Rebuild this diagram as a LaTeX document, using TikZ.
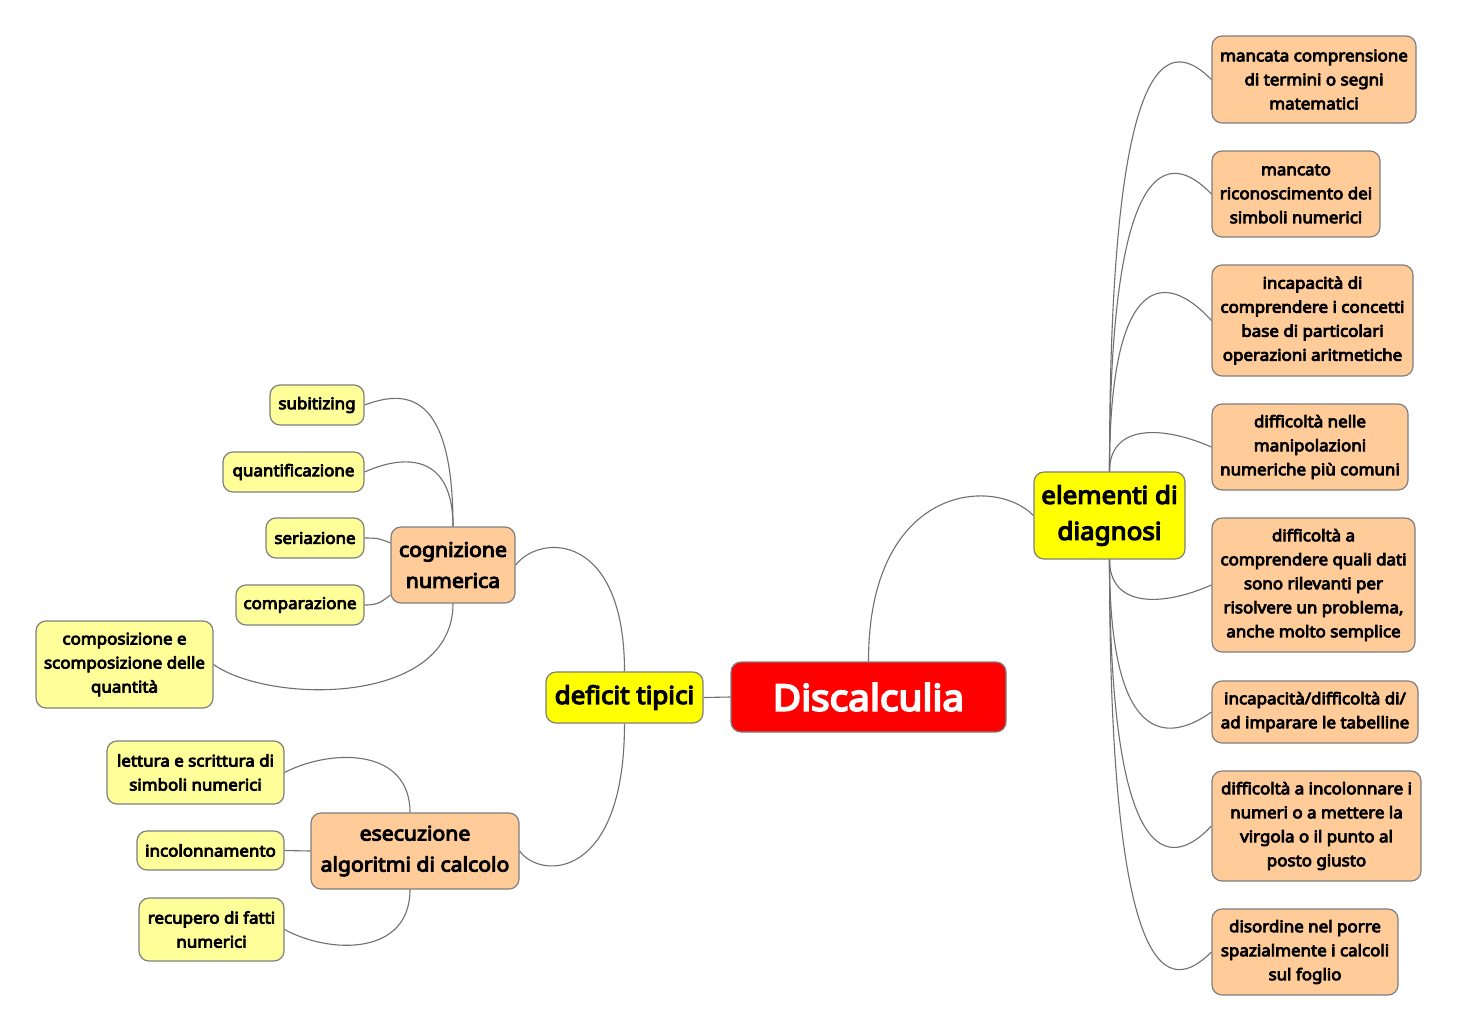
\documentclass[tikz,border=0pt]{standalone}
\usepackage{fontspec}
\setmainfont{Noto Sans}[BoldFont={Noto Sans},BoldFeatures={FakeBold=5,FakeStretch=1.06}]
\usetikzlibrary{positioning}

\definecolor{rootred}{HTML}{FF0000}
\definecolor{mainyellow}{HTML}{FFFF00}
\definecolor{subpeach}{HTML}{FFCC99}
\definecolor{leafyellow}{HTML}{FFFF99}
\definecolor{boxline}{HTML}{7F7F7F}
\definecolor{linkgray}{HTML}{707070}

\begin{document}
\begin{tikzpicture}[x=1pt,y=-1pt,
	box/.style={draw=boxline, line width=1.2pt, rounded corners=10pt, align=center, inner sep=0pt},
	root/.style={box, fill=rootred, text=white, font=\fontsize{36.5}{40}\selectfont\bfseries},
	main/.style={box, fill=mainyellow, font=\fontsize{24.5}{36}\selectfont\bfseries},
	sub/.style={box, fill=subpeach, font=\fontsize{20}{31}\selectfont\bfseries},
	leafy/.style={box, fill=leafyellow, font=\fontsize{16}{24}\selectfont\bfseries},
	leafp/.style={box, fill=subpeach, font=\fontsize{16}{24}\selectfont\bfseries},
	link/.style={draw=linkgray, line width=1.1pt}]
	\fill[white] (0,0) rectangle (1459,1034);
	\useasboundingbox (0,0) rectangle (1459,1034);

	% centre and branches
	\node[root, minimum width=275pt, minimum height=70pt] (rt) at (868.5,697) {Discalculia};
	\node[main, minimum width=157pt, minimum height=51pt] (df) at (624.5,697.5) {deficit tipici};
	\node[main, minimum width=151pt, minimum height=87pt] (el) at (1109.5,515.5) {elementi di\\diagnosi};

	% deficit tipici
	\node[sub, minimum width=124pt, minimum height=76pt] (cn) at (453,565) {cognizione\\numerica};
	\node[sub, minimum width=208pt, minimum height=76pt] (ex) at (415,851) {esecuzione\\algoritmi di calcolo};

	\node[leafy, minimum width=94pt, minimum height=40pt] (sb) at (317,405) {subitizing};
	\node[leafy, minimum width=141pt, minimum height=40pt] (qt) at (293.5,472) {quantificazione};
	\node[leafy, minimum width=98pt, minimum height=40pt] (sr) at (315,538) {seriazione};
	\node[leafy, minimum width=128pt, minimum height=40pt] (cp) at (300,605) {comparazione};
	\node[leafy, minimum width=177pt, minimum height=87pt] (cs) at (124.5,664.5) {composizione e\\scomposizione delle\\quantità};

	\node[leafy, minimum width=177pt, minimum height=63pt] (ls) at (195.5,772.5) {lettura e scrittura di\\simboli numerici};
	\node[leafy, minimum width=147pt, minimum height=39pt] (ic) at (210.5,850.5) {incolonnamento};
	\node[leafy, minimum width=145pt, minimum height=63pt] (rf) at (211.5,929.5) {recupero di fatti\\numerici};

	% elementi di diagnosi
	\node[leafp, minimum width=204pt, minimum height=87pt] (r1) at (1314,79.5) {mancata comprensione\\di termini o segni\\matematici};
	\node[leafp, minimum width=168pt, minimum height=86pt] (r2) at (1296,194) {mancato\\riconoscimento dei\\simboli numerici};
	\node[leafp, minimum width=201pt, minimum height=111pt] (r3) at (1312.5,320.5) {incapacità di\\comprendere i concetti\\base di particolari\\operazioni aritmetiche};
	\node[leafp, minimum width=196pt, minimum height=86pt] (r4) at (1310,447) {difficoltà nelle\\manipolazioni\\numeriche più comuni};
	\node[leafp, minimum width=203pt, minimum height=134pt] (r5) at (1313.5,585) {difficoltà a\\comprendere quali dati\\sono rilevanti per\\risolvere un problema,\\anche molto semplice};
	\node[leafp, minimum width=206pt, minimum height=62pt] (r6) at (1315,712) {incapacità/difficoltà di/\\ad imparare le tabelline};
	\node[leafp, minimum width=209pt, minimum height=110pt] (r7) at (1316.5,826) {difficoltà a incolonnare i\\numeri o a mettere la\\virgola o il punto al\\posto giusto};
	\node[leafp, minimum width=186pt, minimum height=86pt] (r8) at (1305,952) {disordine nel porre\\spazialmente i calcoli\\sul foglio};

	% links
	\draw[link] (rt.west) -- (df.east);
	\draw[link] (rt.north) .. controls +(0,-177) and +(-39,-40) .. (el.west);
	\draw[link] (df.north) .. controls +(0,-139) and +(25,-32) .. (cn.east);
	\draw[link] (df.south) .. controls +(0,157) and +(21,29) .. (ex.east);

	\draw[link] (cn.north) .. controls +(0,-137) and +(40,-15) .. (sb.east);
	\draw[link] (cn.north) .. controls +(0,-73) and +(40,-18) .. (qt.east);
	\draw[link] ([yshift=22pt]cn.west) .. controls +(-10,-4) and +(15,0) .. (sr.east);
	\draw[link] ([yshift=-30pt]cn.west) .. controls +(-8,6) and +(15,0) .. (cp.east);
	\draw[link] (cn.south) .. controls +(0,102) and +(57,40) .. (cs.east);

	\draw[link] ([xshift=-5pt]ex.north) .. controls +(0,-65) and +(46,-24) .. (ls.east);
	\draw[link] (ex.west) -- (ic.east);
	\draw[link] ([xshift=-5pt]ex.south) .. controls +(0,66) and +(46,25) .. (rf.east);

	\draw[link] (el.north) .. controls +(0,-434) and +(-42,-42) .. (r1.west);
	\draw[link] (el.north) .. controls +(0,-322) and +(-42,-44) .. (r2.west);
	\draw[link] (el.north) .. controls +(0,-202) and +(-45,-50) .. (r3.west);
	\draw[link] (el.north) .. controls +(0,-47) and +(-50,-22) .. (r4.west);
	\draw[link] (el.south) .. controls +(0,48) and +(-50,22) .. (r5.west);
	\draw[link] (el.south) .. controls +(0,185) and +(-45,32) .. (r6.west);
	\draw[link] (el.south) .. controls +(0,312) and +(-42,45) .. (r7.west);
	\draw[link] (el.south) .. controls +(0,435) and +(-42,42) .. (r8.west);
\end{tikzpicture}
\end{document}
